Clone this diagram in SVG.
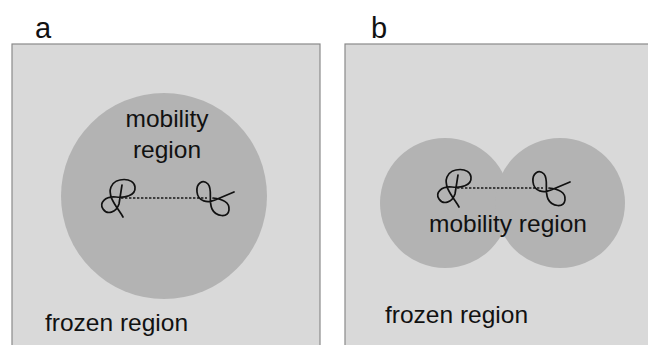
<svg xmlns="http://www.w3.org/2000/svg" xmlns:xlink="http://www.w3.org/1999/xlink" width="648" height="345" viewBox="0 0 648 345">
  <style>
    .panel { fill: #d9d9d9; stroke: #8a8a8a; stroke-width: 1.2; }
    .region { fill: #b3b3b3; stroke: none; }
    .label { font-family: "Liberation Sans", Arial, sans-serif; font-size: 24.5px; fill: #111; }
    .tag { font-family: "Liberation Sans", Arial, sans-serif; font-size: 29px; fill: #111; }
    .knot { fill: none; stroke: #111; stroke-width: 1.7; stroke-linecap: round; stroke-linejoin: round; }
    .tether { fill: none; stroke: #1a1a1a; stroke-width: 1.3; stroke-dasharray: 2.4 1.6; }
  </style>
  <defs>
    <!-- pair of knotted chains joined by a dotted tether -->
    <g id="knot-pair">
      <line class="tether" x1="121" y1="198" x2="207" y2="198"/>
      <path class="knot" d="M123,217 C118,208 107,197 111,187 C115,177 134,177 135,187 C136,196 124,198 116,197 C105,196 99,203 103,209 C107,215 116,213 119,204 L122,185"/>
      <path class="knot" d="M234,192 L215,200 C208,203 198,202 197,192 C196,183 203,179 208,184 C213,190 208,200 212,209 C216,217 228,218 229,210 C230,202 222,199 213,198"/>
    </g>
  </defs>

  <g id="panel-a">
    <rect class="panel" x="12" y="44" width="308" height="310"/>
    <circle class="region" cx="164" cy="196" r="103"/>
    <text class="tag" x="35" y="38">a</text>
    <text class="label" x="167" y="127" text-anchor="middle">mobility</text>
    <text class="label" x="167" y="158" text-anchor="middle">region</text>
    <text class="label" x="45" y="331">frozen region</text>
  </g>

  <g id="panel-b">
    <rect class="panel" x="345" y="44" width="320" height="310"/>
    <circle class="region" cx="445" cy="203" r="65"/>
    <circle class="region" cx="560" cy="203" r="65"/>
    <text class="tag" x="371" y="38">b</text>
    <text class="label" x="508" y="232" text-anchor="middle">mobility region</text>
    <text class="label" x="385" y="323">frozen region</text>
  </g>

  <g id="connectors">
    <use xlink:href="#knot-pair"/>
    <use xlink:href="#knot-pair" transform="translate(336,-10)"/>
  </g>
</svg>
